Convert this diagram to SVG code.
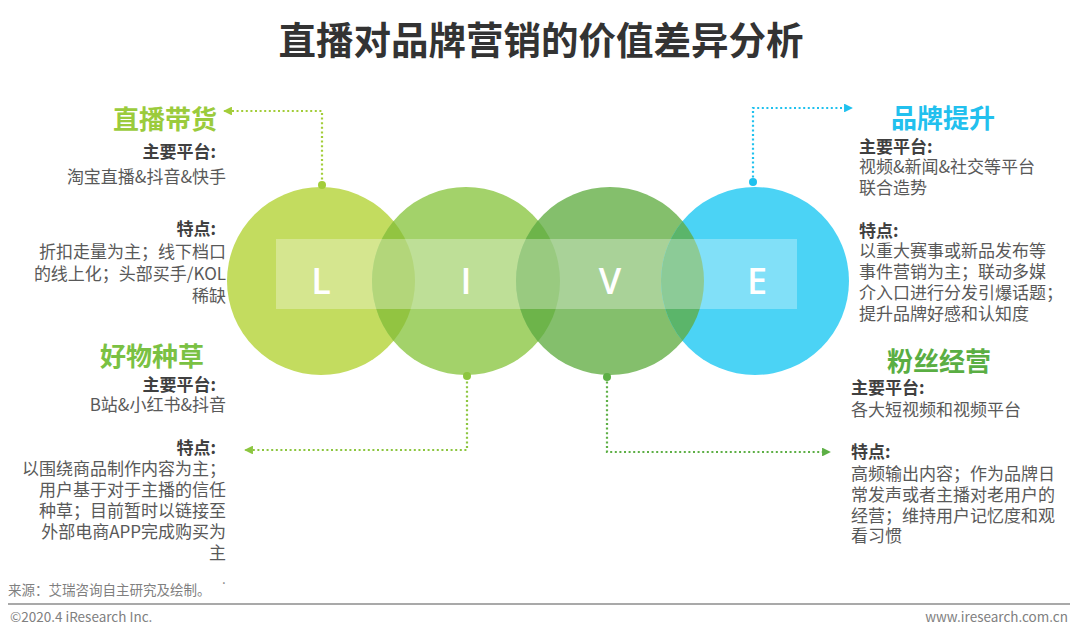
<svg xmlns="http://www.w3.org/2000/svg" width="1080" height="638" viewBox="0 0 1080 638">
<style>
text{font-family:"Noto Sans CJK SC","Liberation Sans",sans-serif}
.title{font-size:37.5px;font-weight:700;fill:#333333}
.head{font-size:26px;font-weight:700}
.lab{font-size:17px;font-weight:700;fill:#404040}
.body{font-size:17px;fill:#595959}
.r{text-anchor:end}
.letter{font-family:"Open Sans","Liberation Sans",sans-serif;font-size:36px;font-weight:600;fill:#ffffff;text-anchor:middle}
.foot{font-size:13.5px;fill:#808080}
.dot{fill:none;stroke-width:2.2;stroke-dasharray:2 2.6}
</style>
<defs>
<clipPath id="cL"><circle cx="321" cy="281" r="94"/></clipPath>
<clipPath id="cI"><circle cx="466" cy="281" r="94"/></clipPath>
<clipPath id="cV"><circle cx="610" cy="281" r="94"/></clipPath>
<marker id="aL" viewBox="0 0 10 10" refX="9" refY="5" markerWidth="4" markerHeight="4" orient="auto"><path d="M0,0L10,5L0,10z" fill="#a3cd39"/></marker>
<marker id="aI" viewBox="0 0 10 10" refX="9" refY="5" markerWidth="4" markerHeight="4" orient="auto"><path d="M0,0L10,5L0,10z" fill="#8cc63f"/></marker>
<marker id="aV" viewBox="0 0 10 10" refX="9" refY="5" markerWidth="4" markerHeight="4" orient="auto"><path d="M0,0L10,5L0,10z" fill="#5daf45"/></marker>
<marker id="aE" viewBox="0 0 10 10" refX="9" refY="5" markerWidth="4" markerHeight="4" orient="auto"><path d="M0,0L10,5L0,10z" fill="#1fc1ee"/></marker>
</defs>
<rect width="1080" height="638" fill="#ffffff"/>
<text class="title" x="541" y="54" text-anchor="middle">直播对品牌营销的价值差异分析</text>

<g id="live">
<circle cx="321" cy="281" r="94" fill="#c3dc5f"/>
<circle cx="466" cy="281" r="94" fill="#a3d26a"/>
<circle cx="610" cy="281" r="94" fill="#84bf6c"/>
<circle cx="755" cy="281" r="94" fill="#4bd3f5"/>
<circle cx="466" cy="281" r="94" fill="#92c441" clip-path="url(#cL)"/>
<circle cx="610" cy="281" r="94" fill="#6db44a" clip-path="url(#cI)"/>
<circle cx="755" cy="281" r="94" fill="#5bb56a" clip-path="url(#cV)"/>
<rect x="276" y="239" width="521" height="70" fill="#ffffff" fill-opacity="0.3"/>
<text class="letter" x="321" y="294">L</text>
<text class="letter" x="466" y="294">I</text>
<text class="letter" x="610" y="294">V</text>
<text class="letter" x="757" y="294">E</text>
</g>

<g id="connectors">
<path class="dot" stroke="#a3cd39" d="M322,184V111H224" marker-end="url(#aL)"/>
<circle cx="322" cy="185" r="4" fill="#a3cd39"/>
<path class="dot" stroke="#1fc1ee" d="M753,182V108H852" marker-end="url(#aE)"/>
<circle cx="753" cy="182" r="4" fill="#1fc1ee"/>
<path class="dot" stroke="#8cc63f" d="M467,377V450H245" marker-end="url(#aI)"/>
<circle cx="467" cy="376" r="4" fill="#8cc63f"/>
<path class="dot" stroke="#5daf45" d="M607,377V452H830" marker-end="url(#aV)"/>
<circle cx="607" cy="377" r="4" fill="#5daf45"/>
</g>

<g id="n1">
<text class="r"><tspan class="head" x="217" y="129" fill="#9bcb3c">直播带货</tspan><tspan class="lab" x="216" y="158">主要平台:</tspan><tspan class="body" x="226" y="183">淘宝直播&amp;抖音&amp;快手</tspan><tspan class="lab" x="216" y="235">特点:</tspan><tspan class="body" x="226" y="258">折扣走量为主；线下档口</tspan><tspan class="body" x="226" y="280">的线上化；头部买手/KOL</tspan><tspan class="body" x="226" y="302">稀缺</tspan></text>
</g>

<g id="n2">
<text><tspan class="head" x="891" y="128" fill="#22c0ee">品牌提升</tspan><tspan class="lab" x="859" y="153">主要平台:</tspan><tspan class="body" x="859" y="173">视频&amp;新闻&amp;社交等平台</tspan><tspan class="body" x="859" y="194">联合造势</tspan><tspan class="lab" x="859" y="237">特点:</tspan><tspan class="body" x="859" y="257">以重大赛事或新品发布等</tspan><tspan class="body" x="859" y="278">事件营销为主；联动多媒</tspan><tspan class="body" x="859" y="299">介入口进行分发引爆话题；</tspan><tspan class="body" x="859" y="320">提升品牌好感和认知度</tspan></text>
</g>

<g id="n3">
<text class="r"><tspan class="head" x="204" y="366" fill="#7ac143">好物种草</tspan><tspan class="lab" x="216" y="391">主要平台:</tspan><tspan class="body" x="226" y="411">B站&amp;小红书&amp;抖音</tspan><tspan class="lab" x="216" y="454">特点:</tspan><tspan class="body" x="226" y="475">以围绕商品制作内容为主；</tspan><tspan class="body" x="226" y="496">用户基于对于主播的信任</tspan><tspan class="body" x="226" y="517">种草；目前暂时以链接至</tspan><tspan class="body" x="226" y="538">外部电商APP完成购买为</tspan><tspan class="body" x="226" y="559">主</tspan></text>
</g>

<g id="n4">
<text><tspan class="head" x="887" y="371" fill="#5aae43">粉丝经营</tspan><tspan class="lab" x="851" y="394">主要平台:</tspan><tspan class="body" x="851" y="416">各大短视频和视频平台</tspan><tspan class="lab" x="851" y="458">特点:</tspan><tspan class="body" x="851" y="480">高频输出内容；作为品牌日</tspan><tspan class="body" x="851" y="501">常发声或者主播对老用户的</tspan><tspan class="body" x="851" y="522">经营；维持用户记忆度和观</tspan><tspan class="body" x="851" y="542">看习惯</tspan></text>
</g>

<text class="foot" x="8" y="595">来源：艾瑞咨询自主研究及绘制。</text>
<text class="foot" x="222" y="584">.</text>
<line x1="8" y1="604" x2="1070" y2="604" stroke="#8c8c8c" stroke-width="1.5"/>
<text class="foot" x="10" y="622">©2020.4 iResearch Inc.</text>
<text class="foot" x="1068" y="622" text-anchor="end">www.iresearch.com.cn</text>
</svg>
